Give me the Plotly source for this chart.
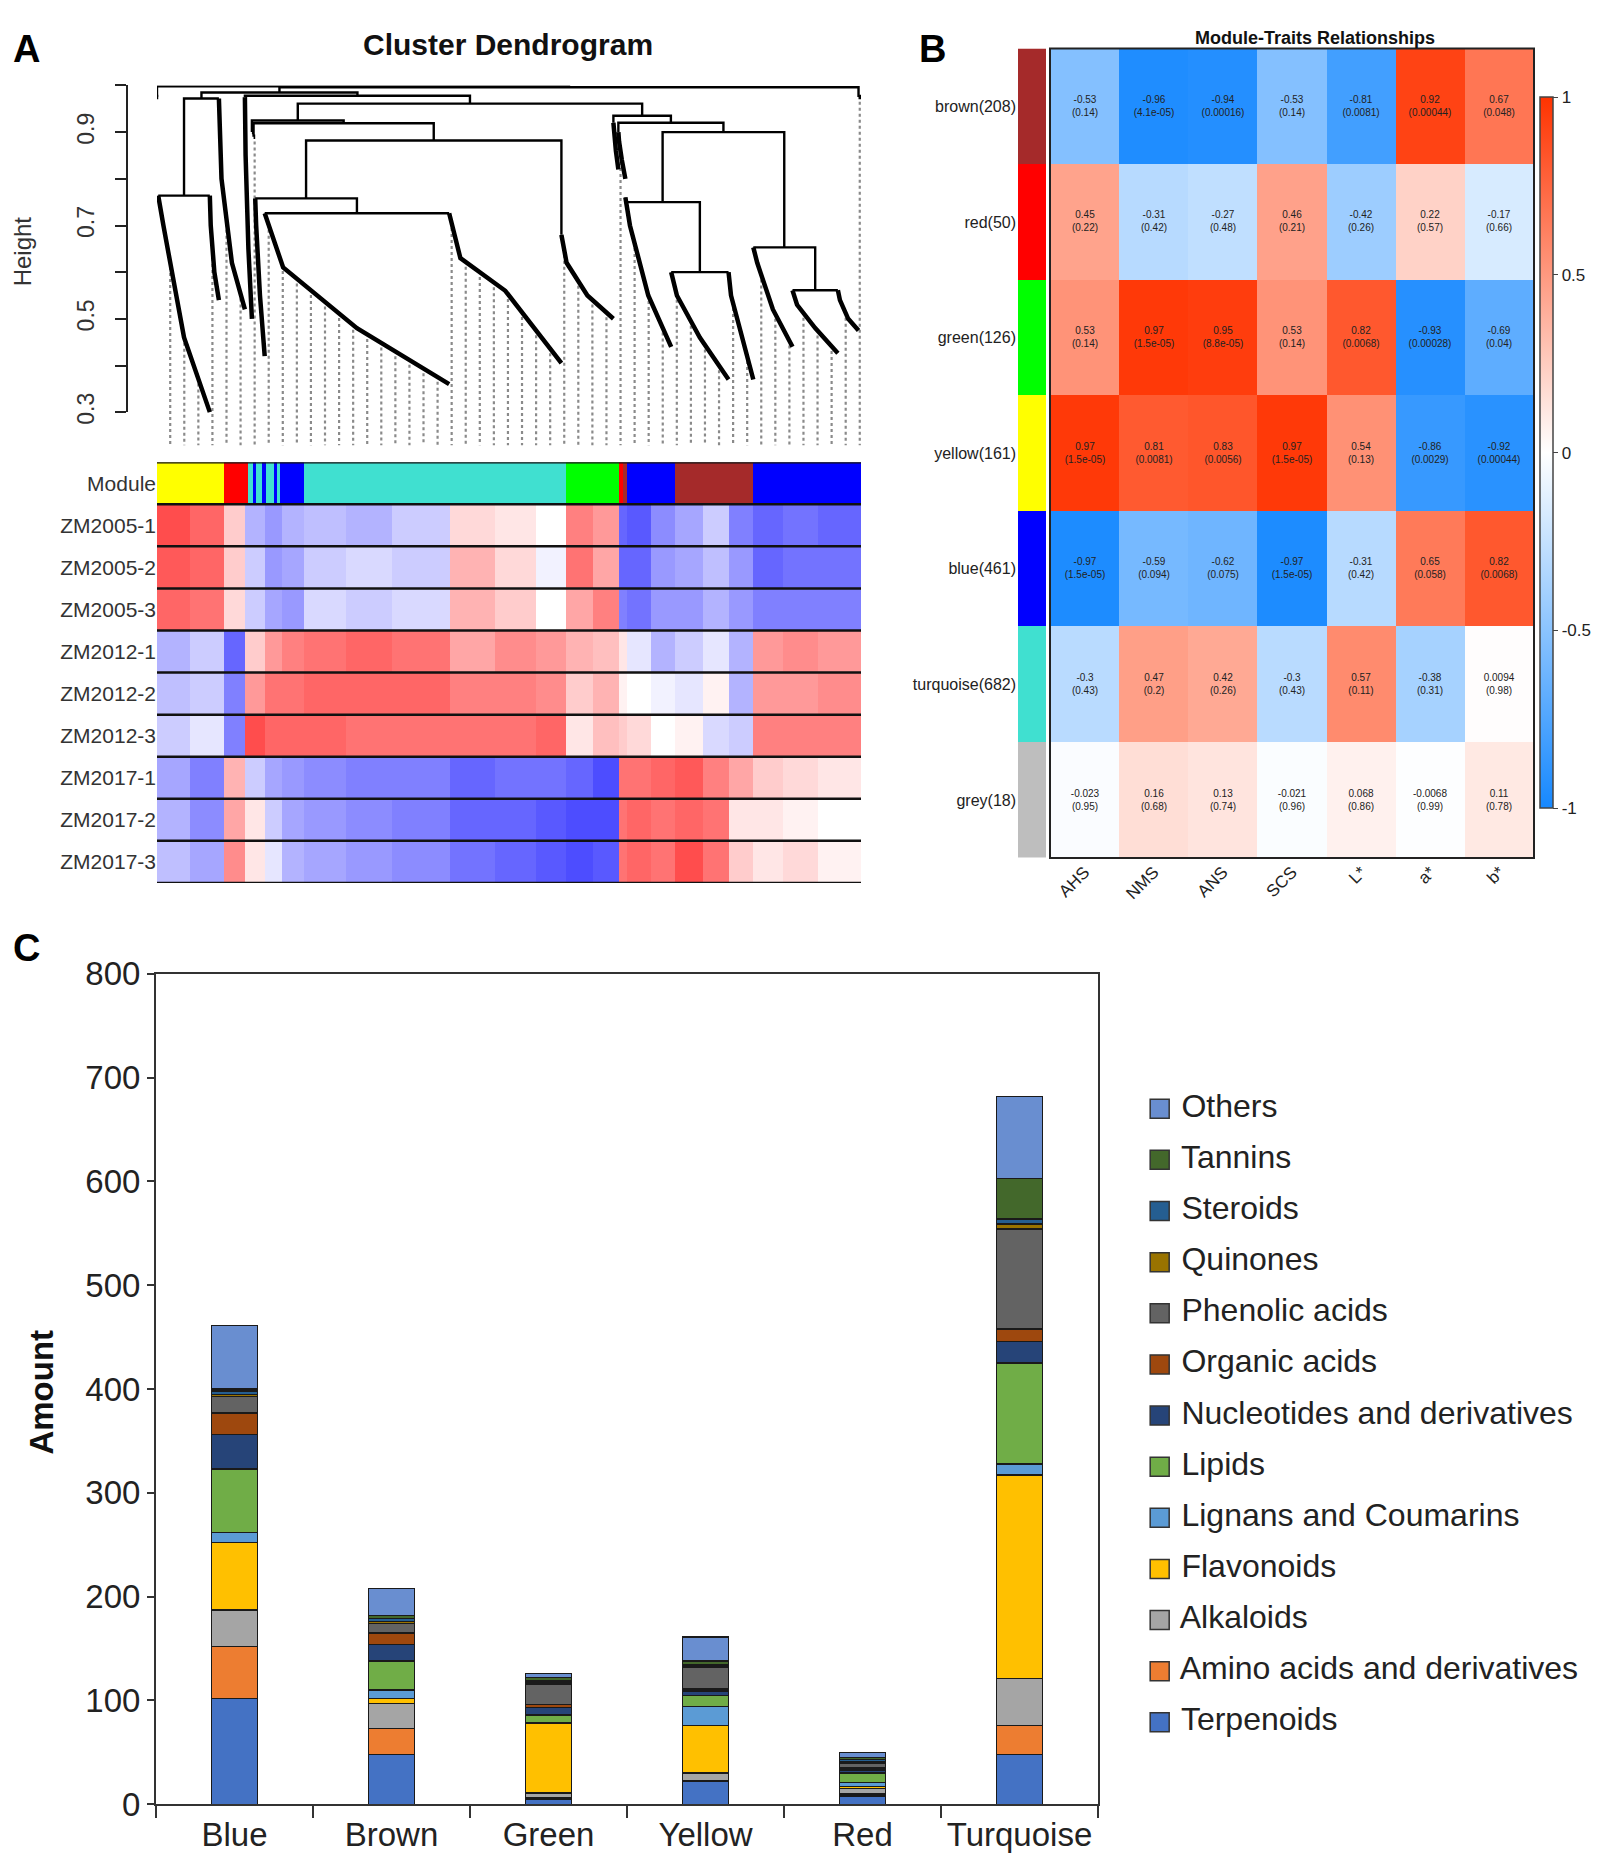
import numpy as np
import plotly.graph_objects as go

# a página desloca o gráfico (margem do body + uma linha) e a captura encolhe um pouco na vertical
OX, OY, SY = 8, 26, 0.981
W = 1594
H = int(round(1871 / SY - OY))
FONT = "Liberation Sans"


def px(x):
    return (x - OX) / W


def py(y):
    return 1 - (y / SY - OY) / H


# ---------------- A: dendrograma (alturas) ----------------
# folha: (nº de genes, altura no início, a 10 %, a 50 % e no fim do ramo)
leaves = {
    "Z0": (3, 0.975, 0.975, 0.975, 0.975),
    "yA": (125, 0.764, 0.70, 0.46, 0.30),
    "yB": (22, 0.764, 0.70, 0.60, 0.54),
    "rA": (63, 0.972, 0.80, 0.62, 0.52),
    "mA": (17, 0.975, 0.85, 0.65, 0.50),
    "s1": (4, 0.90, 0.90, 0.90, 0.90),
    "s2": (4, 0.89, 0.89, 0.89, 0.89),
    "Q": (23, 0.758, 0.70, 0.55, 0.42),
    "T1": (447, 0.726, 0.61, 0.48, 0.36),
    "T2": (272, 0.726, 0.63, 0.56, 0.405),
    "G": (126, 0.68, 0.62, 0.55, 0.50),
    "s3": (12, 0.92, 0.90, 0.86, 0.82),
    "s4": (17, 0.90, 0.88, 0.84, 0.80),
    "B1": (111, 0.76, 0.70, 0.55, 0.44),
    "Br1": (139, 0.60, 0.55, 0.46, 0.37),
    "Br2": (60, 0.60, 0.55, 0.47, 0.37),
    "Bl1": (95, 0.653, 0.62, 0.52, 0.44),
    "Bl2": (110, 0.561, 0.53, 0.48, 0.426),
    "Bl3": (50, 0.561, 0.54, 0.50, 0.475),
    "Z": (6, 0.975, 0.975, 0.975, 0.975),
}
leaf_fracs = [0, 0.1, 0.5, 1.0]
# nó: (altura, esquerda, direita)
tree = (0.998, "Z0",
        (0.996,
         (0.985,
          (0.972, (0.764, "yA", "yB"), "rA"),
          (0.978, "mA",
           (0.961,
            (0.925, "s1", (0.919, "s2", (0.882, (0.758, "Q", (0.726, "T1", "T2")), "G"))),
            (0.935, "s3", (0.92, "s4", (0.90, (0.75, "B1", (0.60, "Br1", "Br2")),
                                        (0.653, "Bl1", (0.561, "Bl2", "Bl3")))))))),
         "Z"))
n_genes = 1706
guide_count = 50
guide_bottom = 0.229

# ---------------- A: barra de módulos e heatmap das amostras ----------------
module_names = ["brown", "red", "green", "yellow", "blue", "turquoise", "grey"]
module_colors = ["#A52A2A", "#FF0000", "#00FF00", "#FFFF00", "#0000FF", "#40E0D0", "#BEBEBE"]
bar_edges = [0, 162, 220, 232, 241, 255, 265, 283, 290, 299, 357, 990, 1120, 1130, 1138, 1256, 1445, 1706]
bar_modules = ["yellow", "red", "turquoise", "blue", "turquoise", "blue", "turquoise", "blue",
               "turquoise", "blue", "turquoise", "green", "red", "brown", "blue", "brown", "blue"]

samples = ["ZM2005-1", "ZM2005-2", "ZM2005-3", "ZM2012-1", "ZM2012-2", "ZM2012-3",
           "ZM2017-1", "ZM2017-2", "ZM2017-3"]
seg_edges = [0, 81, 162, 213, 262, 304, 357, 458, 569, 709, 820, 918, 990, 1057, 1120, 1138,
             1197, 1256, 1322, 1385, 1445, 1518, 1601, 1706]
zm2005_1 = [0.7, 0.6, 0.2, -0.3, -0.4, -0.3, -0.25, -0.3, -0.2, 0.15, 0.1, 0.0, 0.5, 0.4, -0.6,
            -0.65, -0.45, -0.35, -0.2, -0.5, -0.6, -0.55, -0.6]
zm2005_2 = [0.65, 0.6, 0.2, -0.2, -0.4, -0.35, -0.2, -0.15, -0.2, 0.3, 0.15, -0.05, 0.55, 0.35, -0.6,
            -0.6, -0.4, -0.35, -0.25, -0.4, -0.6, -0.55, -0.55]
zm2005_3 = [0.6, 0.55, 0.15, -0.2, -0.35, -0.4, -0.15, -0.2, -0.15, 0.3, 0.2, 0.0, 0.35, 0.5, -0.5,
            -0.55, -0.4, -0.4, -0.3, -0.4, -0.5, -0.5, -0.5]
zm2012_1 = [-0.3, -0.2, -0.6, 0.2, 0.4, 0.5, 0.55, 0.6, 0.55, 0.35, 0.45, 0.4, 0.3, 0.25, 0.1,
            -0.1, -0.3, -0.2, -0.1, -0.3, 0.4, 0.45, 0.4]
zm2012_2 = [-0.25, -0.2, -0.5, 0.4, 0.55, 0.55, 0.6, 0.6, 0.6, 0.5, 0.5, 0.45, 0.2, 0.3, 0.05,
            0.0, -0.05, -0.1, 0.05, -0.3, 0.4, 0.4, 0.45]
zm2012_3 = [-0.2, -0.1, -0.5, 0.7, 0.6, 0.6, 0.6, 0.55, 0.55, 0.55, 0.55, 0.6, 0.1, 0.25, 0.2,
            0.15, 0.0, 0.05, -0.15, -0.2, 0.5, 0.5, 0.5]
zm2017_1 = [-0.35, -0.5, 0.3, -0.2, -0.35, -0.4, -0.45, -0.5, -0.5, -0.6, -0.55, -0.55, -0.6, -0.7,
            0.55, 0.55, 0.6, 0.65, 0.5, 0.35, 0.2, 0.15, 0.1]
zm2017_2 = [-0.3, -0.45, 0.35, 0.1, -0.2, -0.35, -0.4, -0.45, -0.5, -0.6, -0.6, -0.65, -0.7, -0.7,
            0.55, 0.6, 0.55, 0.6, 0.55, 0.1, 0.1, 0.05, 0.0]
zm2017_3 = [-0.25, -0.35, 0.45, 0.1, -0.1, -0.3, -0.35, -0.4, -0.45, -0.55, -0.6, -0.65, -0.7, -0.65,
            0.55, 0.6, 0.55, 0.7, 0.55, 0.2, 0.1, 0.15, 0.05]

# ---------------- B: relações módulo-característica ----------------
traits = ["AHS", "NMS", "ANS", "SCS", "L*", "a*", "b*"]
module_sizes = [208, 50, 126, 161, 461, 682, 18]
cor_brown = [-0.53, -0.96, -0.94, -0.53, -0.81, 0.92, 0.67]
cor_red = [0.45, -0.31, -0.27, 0.46, -0.42, 0.22, -0.17]
cor_green = [0.53, 0.97, 0.95, 0.53, 0.82, -0.93, -0.69]
cor_yellow = [0.97, 0.81, 0.83, 0.97, 0.54, -0.86, -0.92]
cor_blue = [-0.97, -0.59, -0.62, -0.97, -0.31, 0.65, 0.82]
cor_turquoise = [-0.3, 0.47, 0.42, -0.3, 0.57, -0.38, 0.0094]
cor_grey = [-0.023, 0.16, 0.13, -0.021, 0.068, -0.0068, 0.11]
p_brown = ["0.14", "4.1e-05", "0.00016", "0.14", "0.0081", "0.00044", "0.048"]
p_red = ["0.22", "0.42", "0.48", "0.21", "0.26", "0.57", "0.66"]
p_green = ["0.14", "1.5e-05", "8.8e-05", "0.14", "0.0068", "0.00028", "0.04"]
p_yellow = ["1.5e-05", "0.0081", "0.0056", "1.5e-05", "0.13", "0.0029", "0.00044"]
p_blue = ["1.5e-05", "0.094", "0.075", "1.5e-05", "0.42", "0.058", "0.0068"]
p_turquoise = ["0.43", "0.2", "0.26", "0.43", "0.11", "0.31", "0.98"]
p_grey = ["0.95", "0.68", "0.74", "0.96", "0.86", "0.99", "0.78"]

# ---------------- C: classes de metabólitos por módulo ----------------
groups = ["Blue", "Brown", "Green", "Yellow", "Red", "Turquoise"]
classes = ["Terpenoids", "Amino acids and derivatives", "Alkaloids", "Flavonoids",
           "Lignans and Coumarins", "Lipids", "Nucleotides and derivatives", "Organic acids",
           "Phenolic acids", "Quinones", "Steroids", "Tannins", "Others"]
class_colors = ["#4472C4", "#ED7D31", "#A5A5A5", "#FFC000", "#5B9BD5", "#70AD47", "#264478",
                "#9E480E", "#636363", "#997300", "#255E91", "#43682B", "#698ED0"]
terpenoids = [102, 48, 5, 22, 8, 48]
amino_acids = [50, 25, 1, 1, 2, 28]
alkaloids = [35, 24, 5, 7, 5, 45]
flavonoids = [65, 5, 67, 46, 2, 196]
lignans = [10, 8, 1, 18, 4, 11]
lipids = [61, 28, 7, 11, 9, 97]
nucleotides = [33, 16, 7, 4, 3, 21]
organic_acids = [21, 11, 3, 2, 2, 12]
phenolic_acids = [16, 9, 20, 21, 5, 96]
quinones = [2, 2, 1, 1, 1, 5]
steroids = [3, 3, 2, 1, 2, 5]
tannins = [2, 3, 3, 4, 2, 39]
others = [61, 26, 4, 23, 5, 79]

fig = go.Figure()

# ---- dendrograma ----
tree_x, tree_y = [], []
sweep_x, sweep_y = [], []
curves = []


def place(node, x0):
    if isinstance(node, str):
        g, *hs = leaves[node]
        xs = [x0 + f * g for f in leaf_fracs]
        sweep_x.extend(xs + [None])
        sweep_y.extend(hs + [None])
        curves.append((xs, hs))
        return x0, hs[0], x0 + g
    h, left, right = node
    la, lt, x1 = place(left, x0)
    ra, rt, x2 = place(right, x1)
    tree_x.extend([la, la, ra, ra, None])
    tree_y.extend([lt, h, h, rt, None])
    return (la + ra) / 2, h, x2


place(tree, 0)

guide_x, guide_y = [], []
for g in np.linspace(32, n_genes - 3, guide_count):
    for xs, ys in curves:
        if xs[0] <= g <= xs[-1]:
            guide_x += [g, g, None]
            guide_y += [float(np.interp(g, xs, ys)) - 0.01, guide_bottom, None]
            break

fig.add_trace(go.Scatter(x=guide_x, y=guide_y, mode="lines", line=dict(color="#8a8a8a", width=2.2, dash="dot"),
                         xaxis="x", yaxis="y", showlegend=False, hoverinfo="skip"))
fig.add_trace(go.Scatter(x=tree_x, y=tree_y, mode="lines", line=dict(color="black", width=2.4),
                         xaxis="x", yaxis="y", showlegend=False, hoverinfo="skip"))
fig.add_trace(go.Scatter(x=sweep_x, y=sweep_y, mode="lines", line=dict(color="black", width=4.5),
                         xaxis="x", yaxis="y", showlegend=False, hoverinfo="skip"))
fig.add_trace(go.Scatter(x=[None], y=[None], xaxis="x", yaxis="y6", showlegend=False))

# ---- barra de módulos + heatmap de amostras ----
mod_idx = [module_names.index(m) for m in bar_modules]
n_mod = len(module_colors)
disc_scale = []
for i, c in enumerate(module_colors):
    disc_scale += [[i / n_mod, c], [(i + 1) / n_mod, c]]

fig.add_trace(go.Heatmap(z=[mod_idx], x=bar_edges, y=[-0.5, 0.5], colorscale=disc_scale,
                         zmin=-0.5, zmax=n_mod - 0.5, showscale=False, xaxis="x2", yaxis="y2",
                         hoverinfo="skip"))
expr = [zm2005_1, zm2005_2, zm2005_3, zm2012_1, zm2012_2, zm2012_3, zm2017_1, zm2017_2, zm2017_3]
fig.add_trace(go.Heatmap(z=expr, x=seg_edges, y=[i + 0.5 for i in range(len(samples) + 1)],
                         colorscale=[[0, "#0000FF"], [0.5, "#FFFFFF"], [1, "#FF0000"]],
                         zmin=-1, zmax=1, showscale=False, xaxis="x2", yaxis="y2", hoverinfo="skip"))
sep_x, sep_y = [], []
for b in range(len(samples) + 2):
    sep_x += [0, n_genes, None]
    sep_y += [b - 0.5, b - 0.5, None]
fig.add_trace(go.Scatter(x=sep_x, y=sep_y, mode="lines", line=dict(color="#111", width=2.5),
                         xaxis="x2", yaxis="y2", showlegend=False, hoverinfo="skip"))

# ---- B ----
row_labels = [f"{m}({n})" for m, n in zip(module_names, module_sizes)]
cors = [cor_brown, cor_red, cor_green, cor_yellow, cor_blue, cor_turquoise, cor_grey]
pvals = [p_brown, p_red, p_green, p_yellow, p_blue, p_turquoise, p_grey]
cell_text = [[f"{c:g}<br>({p})" for c, p in zip(cr, pr)] for cr, pr in zip(cors, pvals)]
rows = list(range(len(module_names)))

fig.add_trace(go.Heatmap(z=[[i] for i in rows], x=[0], y=rows, colorscale=disc_scale,
                         zmin=-0.5, zmax=n_mod - 0.5, showscale=False, xaxis="x3", yaxis="y4",
                         hoverinfo="skip"))
fig.add_trace(go.Heatmap(
    z=cors, x=traits, y=rows, text=cell_text, texttemplate="%{text}",
    textfont=dict(size=10, color="#222", family=FONT),
    colorscale=[[0, "rgb(22,136,255)"], [0.5, "#FFFFFF"], [1, "rgb(255,51,0)"]],
    zmin=-1, zmax=1, xaxis="x4", yaxis="y4", hoverinfo="skip",
    colorbar=dict(x=px(1540), xanchor="left", y=(py(97) + py(808)) / 2, yanchor="middle",
                  len=py(97) - py(808), thickness=13, outlinewidth=1.5, outlinecolor="#444",
                  ticks="outside", ticklen=5, tickcolor="#444", tickvals=[-1, -0.5, 0, 0.5, 1],
                  ticktext=["-1", "-0.5", "0", "0.5", "1"], tickfont=dict(size=17, color="#222"),
                  xpad=0, ypad=0)))

# ---- C ----
series = [terpenoids, amino_acids, alkaloids, flavonoids, lignans, lipids, nucleotides,
          organic_acids, phenolic_acids, quinones, steroids, tannins, others]
for name, vals, col in zip(classes, series, class_colors):
    fig.add_trace(go.Bar(x=groups, y=vals, name=name, marker=dict(color=col, line=dict(color="#1a1a1a", width=1.5)),
                         width=0.29, xaxis="x5", yaxis="y5", showlegend=False))

fig.add_trace(go.Scatter(
    x=[0] * len(classes), y=list(range(len(classes))), mode="markers+text",
    marker=dict(symbol="square", size=19, color=class_colors, line=dict(color="#333", width=1.5)),
    text=[" " + c for c in classes], textposition="middle right",
    textfont=dict(size=32, color="#222", family=FONT),
    xaxis="x7", yaxis="y7", showlegend=False, hoverinfo="skip", cliponaxis=False))

hidden = dict(visible=False, showgrid=False, zeroline=False)
fig.update_layout(
    width=W, height=H, margin=dict(l=0, r=0, t=0, b=0),
    paper_bgcolor="white", plot_bgcolor="rgba(0,0,0,0)",
    font=dict(family=FONT, color="#222"), barmode="stack",
    xaxis=dict(domain=[px(157), px(861)], range=[0, n_genes], anchor="y", **hidden),
    yaxis=dict(domain=[py(458.6), py(85)], range=[0.2, 1.0], anchor="x", **hidden),
    yaxis6=dict(domain=[py(412), py(85)], range=[0.3, 1.0], anchor="free", position=px(127),
                showline=True, linecolor="#222", linewidth=2, ticks="outside", ticklen=11,
                tickwidth=2, tickcolor="#222", tickvals=[0.3, 0.4, 0.5, 0.6, 0.7, 0.8, 0.9, 1.0],
                ticktext=["0.3", "", "0.5", "", "0.7", "", "0.9", ""], tickangle=-90,
                ticklabelstandoff=12, tickfont=dict(size=23, color="#333"), showgrid=False,
                zeroline=False),
    xaxis2=dict(domain=[px(157), px(861)], range=[0, n_genes], anchor="y2", **hidden),
    yaxis2=dict(domain=[py(883), py(462)], range=[len(samples) + 0.5, -0.5], anchor="x2",
                tickvals=list(range(len(samples) + 1)), ticktext=["Module"] + samples, ticks="",
                tickfont=dict(size=21, color="#333"), showgrid=False, zeroline=False),
    xaxis3=dict(domain=[px(1018), px(1046)], range=[-0.5, 0.5], anchor="y4", **hidden),
    xaxis4=dict(domain=[px(1050), px(1534)], anchor="y4", tickangle=-45, ticks="",
                tickfont=dict(size=17, color="#222"), showgrid=False, zeroline=False),
    yaxis4=dict(domain=[py(858), py(48)], range=[len(rows) - 0.5, -0.5], anchor="free",
                position=px(1016), tickvals=rows, ticktext=row_labels, ticks="",
                tickfont=dict(size=16, color="#222"), showgrid=False, zeroline=False),
    xaxis5=dict(domain=[px(156), px(1098)], anchor="y5", showline=True, linecolor="#333",
                linewidth=2, mirror=True, ticks="outside", tickson="boundaries", ticklen=12,
                tickwidth=2, tickcolor="#333", tickfont=dict(size=33, color="#222"), showgrid=False),
    yaxis5=dict(domain=[py(1805), py(974)], range=[0, 800], dtick=100, anchor="x5", showline=True,
                linecolor="#333", linewidth=2, mirror=True, ticks="outside", ticklen=7, tickwidth=2,
                tickcolor="#333", tickfont=dict(size=33, color="#222"), showgrid=False, zeroline=False),
    xaxis7=dict(domain=[px(1150), px(1600)], range=[-0.022, 1], anchor="y7", **hidden),
    yaxis7=dict(domain=[py(1748.6), py(1083.4)], range=[-0.5, len(classes) - 0.5], anchor="x7", **hidden),
)

fig.add_shape(type="rect", xref="x4 domain", yref="y4 domain", x0=0, x1=1, y0=0, y1=1,
              line=dict(color="#222", width=2))

annots = [
    dict(text="<b>A</b>", x=px(26), y=1, yanchor="top", font=dict(size=38, color="black")),
    dict(text="<b>B</b>", x=px(932), y=1, yanchor="top", font=dict(size=38, color="black")),
    dict(text="<b>C</b>", x=px(26), y=py(948), yanchor="middle", font=dict(size=38, color="black")),
    dict(text="<b>Cluster Dendrogram</b>", x=px(508), y=1, yanchor="top", font=dict(size=30, color="#111")),
    dict(text="<b>Module-Traits Relationships</b>", x=px(1315), y=1, yanchor="top", font=dict(size=18, color="#111")),
    dict(text="Height", x=px(22), y=py(251), yanchor="middle", textangle=-90, font=dict(size=24, color="#333")),
    dict(text="<b>Amount</b>", x=px(42), y=py(1393), yanchor="middle", textangle=-90, font=dict(size=33, color="#111")),
]
for a in annots:
    fig.add_annotation(xref="paper", yref="paper", showarrow=False, xanchor="center", **a)

fig.write_html("out.html")
